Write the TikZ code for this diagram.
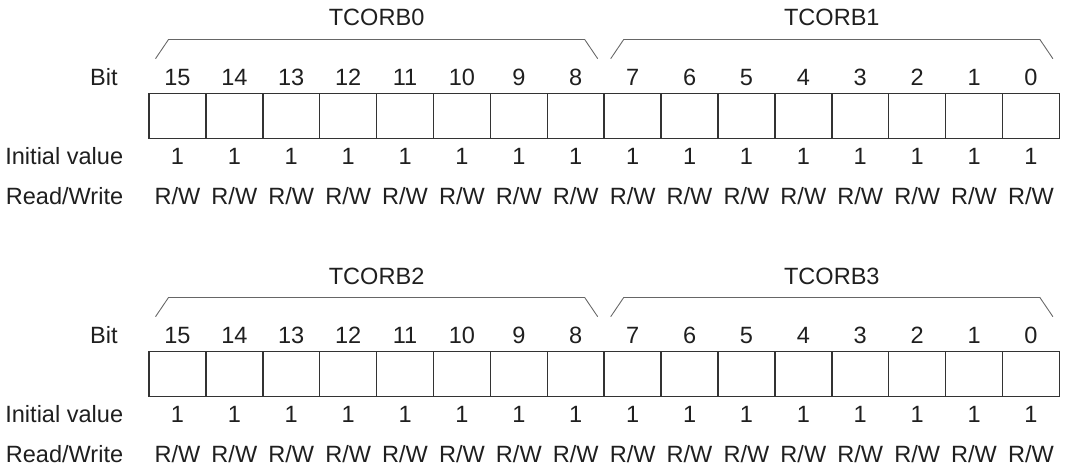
\documentclass[tikz,border=0pt]{standalone}
\usepackage{fontspec}
\setmainfont{Liberation Sans}
\usetikzlibrary{calc}

\begin{document}
\begin{tikzpicture}[x=0.02cm, y=0.02cm,
  every node/.style={font=\fontsize{13.4}{15}\selectfont, text=black!88, inner sep=0pt},
  bitcell/.style={draw=black!80, line width=0.8pt, minimum width=1.138cm, minimum height=0.9cm, outer sep=0pt},
  regbrace/.style={draw=black!60, line width=0.5pt}]
\useasboundingbox (0,0) rectangle (1065,466);

\foreach \g/\dy/\na/\nb in {0/0/TCORB0/TCORB1, 1/258/TCORB2/TCORB3} {
  % row labels
  \node[anchor=base east] (bit\g) at (118,380-\dy) {Bit};
  \node[anchor=base east] (init\g) at (123.5,301-\dy) {Initial value};
  \node[anchor=base east] (rw\g) at (123.5,261-\dy) {Read/Write};

  % bit cells, numbers, values
  \foreach \i in {0,...,15} {
    \pgfmathtruncatemacro\b{15-\i}
    \node[bitcell] (cell\g-\b) at (177.45+56.9*\i, 350.2-\dy) {};
    \node[anchor=base] (num\g-\b) at (177.45+56.9*\i, 380-\dy) {\b};
    \node[anchor=base] (val\g-\b) at (177.45+56.9*\i, 301-\dy) {1};
    \node[anchor=base] (acc\g-\b) at (177.45+56.9*\i, 261-\dy) {R/W};
  }

  % upper byte
  \draw[regbrace] ($(cell\g-15.north west)+(6.5,34.6)$) -- ($(cell\g-15.north west)+(19.5,53.8)$)
    -- ($(cell\g-8.north east)+(-19.5,53.8)$) -- ($(cell\g-8.north east)+(-6.5,34.6)$);
  \node[anchor=base] (hi\g) at ($(cell\g-15.north west)!0.5!(cell\g-8.north east)+(0,67.3)$) {\na};

  % lower byte
  \draw[regbrace] ($(cell\g-7.north west)+(6.5,34.6)$) -- ($(cell\g-7.north west)+(19.5,53.8)$)
    -- ($(cell\g-0.north east)+(-19.5,53.8)$) -- ($(cell\g-0.north east)+(-6.5,34.6)$);
  \node[anchor=base] (lo\g) at ($(cell\g-7.north west)!0.5!(cell\g-0.north east)+(0,67.3)$) {\nb};
}
\end{tikzpicture}
\end{document}
